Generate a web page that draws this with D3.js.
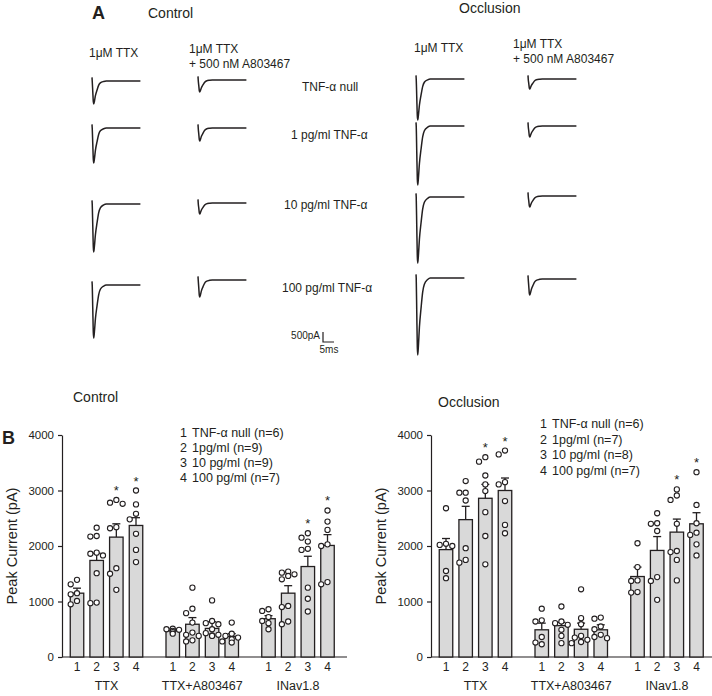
<!DOCTYPE html>
<html>
<head>
<meta charset="utf-8">
<script src="https://cdn.jsdelivr.net/npm/d3@7"></script>
<style>
  body { margin: 0; background: #fff; }
  text { font-family: "Liberation Sans", Arial, sans-serif; fill: #231f20; }
</style>
</head>
<body>
<div id="fig"></div>
<script>
// ---- panel A : example traces ----
const traceRows = ["TNF-\u03b1 null", "1 pg/ml TNF-\u03b1", "10 pg/ml TNF-\u03b1", "100 pg/ml TNF-\u03b1"];
const ctrlTTXPeak = [1150, 1750, 2400, 2650];
const ctrlA803Peak = [600, 650, 550, 850];
const occlTTXPeak = [2050, 2950, 3300, 3850];
const occlA803Peak = [500, 550, 550, 800];
// normalised waveform (time in ms, fraction of peak)
const traceT = [0.1, 0.35, 0.6, 0.8, 1.1, 1.55, 2.3, 3.05, 3.8, 5.3, 6.5, 22];
const traceF = [0, 0.45, 0.9, 1.0, 0.88, 0.64, 0.39, 0.18, 0.08, 0.02, 0, 0];
const artifactPA = 180;

// ---- panel B : bar charts ----
const groups = ["TTX", "TTX+A803467", "INav1.8"];
const doseIds = ["1", "2", "3", "4"];
const doseNames = ["TNF-\u03b1 null", "1pg/ml", "10 pg/ml", "100 pg/ml"];
const yTicks = [0, 1000, 2000, 3000, 4000];

const ctrlN = [6, 9, 9, 7];
const ctrlMean = [[1150, 1740, 2160, 2370], [470, 590, 515, 370], [690, 1150, 1630, 2010]];
const ctrlSem = [[90, 130, 240, 140], [35, 120, 120, 50], [55, 135, 185, 195]];
const ctrlStars = [[0, 0, 1, 1], [0, 0, 0, 0], [0, 0, 1, 1]];
const ctrlDots = [
  [[1390, 1310, 1150, 1130, 1010, 950],
   [2330, 2180, 2170, 1880, 1860, 1830, 1510, 980, 970],
   [2830, 2780, 2760, 2340, 2320, 1600, 1500, 1210],
   [3000, 2750, 2580, 2480, 2220, 1930, 1710]],
  [[510, 500, 490, 470, 450, 420],
   [1250, 870, 790, 620, 440, 400, 380, 300, 280],
   [1020, 650, 610, 590, 500, 430, 400, 390, 380],
   [620, 420, 380, 350, 320, 280, 260]],
  [[860, 830, 720, 650, 610, 500],
   [1540, 1520, 1490, 1460, 1400, 920, 900, 640, 590],
   [2230, 2150, 2080, 1950, 1930, 1250, 1050, 820],
   [2640, 2440, 2290, 2030, 2000, 1350, 1310]]
];

const occlN = [6, 7, 8, 7];
const occlMean = [[1935, 2475, 2860, 3000], [490, 565, 500, 490], [1450, 1920, 2250, 2400]];
const occlSem = [[200, 240, 250, 225], [120, 60, 110, 90], [170, 250, 235, 200]];
const occlStars = [[0, 0, 1, 1], [0, 0, 0, 0], [0, 0, 1, 1]];
const occlDots = [
  [[2680, 2040, 2020, 2000, 1550, 1420],
   [3170, 2960, 2960, 2820, 1960, 1750, 1700],
   [3600, 3520, 3270, 3110, 2990, 2610, 2180, 1670],
   [3720, 3650, 3150, 3110, 2810, 2380, 2230]],
  [[870, 660, 640, 360, 260, 230],
   [910, 640, 610, 580, 490, 380, 250],
   [1220, 700, 590, 380, 350, 310, 270, 250],
   [710, 690, 550, 500, 400, 360, 340]],
  [[2050, 1620, 1380, 1370, 1170, 1160],
   [2590, 2410, 2400, 2270, 1440, 1370, 1030],
   [3020, 2910, 2830, 2400, 1910, 1890, 1750, 1380],
   [3330, 2740, 2410, 2240, 2200, 2030, 1830]]
];

const W = 712, H = 696;
const ink = "#231f20";

const svg = d3.select("#fig").append("svg")
    .attr("width", W)
    .attr("height", H)
    .attr("viewBox", [0, 0, W, H]);

// ================= panel A =================
const pxPerMs = 2.2;     // 5 ms = 11 px
const pxPerPA = 10 / 500; // 500 pA = 10 px

function drawTrace(x0, base, peak) {
    const tx = d3.scaleLinear().domain([0, 22]).range([x0, x0 + 22 * pxPerMs]);
    const ty = d3.scaleLinear().domain([0, 500]).range([base, base + 500 * pxPerPA]);
    const pts = [[0, -artifactPA]].concat(traceT.map((t, i) => [t, traceF[i] * peak]));
    const line = d3.line()
        .x(d => tx(d[0]))
        .y(d => ty(d[1]))
        .curve(d3.curveMonotoneX);
    svg.append("path")
        .attr("d", line(pts))
        .attr("fill", "none")
        .attr("stroke", ink)
        .attr("stroke-width", 1.5)
        .attr("stroke-linejoin", "round");
}

svg.append("text").attr("x", 92).attr("y", 19)
    .style("font-size", "18px").style("font-weight", "bold").text("A");
svg.append("text").attr("x", 148).attr("y", 18).style("font-size", "14px").text("Control");
svg.append("text").attr("x", 459).attr("y", 13).style("font-size", "14px").text("Occlusion");

function colHeader(x, y, lines) {
    const t = svg.append("text").attr("x", x).attr("y", y).style("font-size", "12px");
    lines.forEach((s, i) => t.append("tspan").attr("x", x).attr("dy", i ? 15 : 0).text(s));
}
colHeader(89, 57, ["1\u03bcM TTX"]);
colHeader(189, 53, ["1\u03bcM TTX", "+ 500 nM A803467"]);
colHeader(414, 52, ["1\u03bcM TTX"]);
colHeader(513, 48, ["1\u03bcM TTX", "+ 500 nM A803467"]);

const ctrlBase = [81, 128, 204, 285];
const ctrlBase2 = [80, 128, 203, 280];
const occlBase = [79, 126, 197, 278];
const occlBase2 = [79, 126, 196, 279];
traceRows.forEach((r, i) => {
    drawTrace(92, ctrlBase[i], ctrlTTXPeak[i]);
    drawTrace(198, ctrlBase2[i], ctrlA803Peak[i]);
    drawTrace(416, occlBase[i], occlTTXPeak[i]);
    drawTrace(528, occlBase2[i], occlA803Peak[i]);
});

const rowLabelX = [302, 291, 284, 282];
const rowLabelY = [91, 139, 209, 292];
svg.append("g").selectAll("text")
    .data(traceRows)
    .join("text")
    .attr("x", (d, i) => rowLabelX[i])
    .attr("y", (d, i) => rowLabelY[i])
    .style("font-size", "12px")
    .text(d => d);

// scale bar
const sbX = 323, sbY = 342;
svg.append("path")
    .attr("d", `M${sbX},${sbY - 500 * pxPerPA}V${sbY}H${sbX + 5 * pxPerMs}`)
    .attr("fill", "none").attr("stroke", ink).attr("stroke-width", 1.2);
svg.append("text").attr("x", sbX - 3).attr("y", sbY - 3)
    .attr("text-anchor", "end").style("font-size", "10px").text("500pA");
svg.append("text").attr("x", sbX + 6).attr("y", sbY + 11)
    .attr("text-anchor", "middle").style("font-size", "10px").text("5ms");

// ================= panel B =================
svg.append("text").attr("x", 2).attr("y", 444)
    .style("font-size", "18px").style("font-weight", "bold").text("B");

const y = d3.scaleLinear().domain([0, 4000]).range([657, 435]);
const r = 2.6;

// simple dodge so that equal values sit side by side
function dodge(values) {
    const placed = [];
    values.slice().sort((a, b) => b - a).forEach(v => {
        const cy = y(v);
        const cands = [0, -6.3, 6.3, -3.2, 3.2, -9.5, 9.5];
        let off = cands.find(o => placed.every(p => Math.hypot(p.dx - o, p.cy - cy) >= 2 * r + 0.9));
        if (off === undefined) off = 0;
        placed.push({ dx: off, cy: cy });
    });
    return placed;
}

function drawChart(cfg) {
    const g = svg.append("g");
    const x0 = cfg.x0;
    const gx = d3.scalePoint().domain(groups).range([x0 + 44.5, x0 + 236]);
    const ix = d3.scalePoint().domain(doseIds).range([-29.5, 29.5]);
    const barW = 13.5;

    // y axis
    const yAxis = g.append("g")
        .attr("transform", `translate(${x0},0)`)
        .call(d3.axisLeft(y).tickValues(yTicks).tickFormat(d3.format("d"))
            .tickSize(4).tickSizeOuter(0).tickPadding(4));
    yAxis.select(".domain").attr("stroke", ink).attr("stroke-width", 1.2);
    yAxis.selectAll(".tick line").attr("stroke", ink).attr("stroke-width", 1.2);
    yAxis.selectAll(".tick text")
        .style("font-size", "11.5px")
        .style("font-family", "'Liberation Sans', Arial, sans-serif")
        .attr("fill", ink);

    g.append("line")
        .attr("x1", x0).attr("x2", x0 + 285)
        .attr("y1", y(0)).attr("y2", y(0))
        .attr("stroke", ink).attr("stroke-width", 1.2);

    g.append("text")
        .attr("transform", `translate(${x0 - 50},${(y(0) + y(4000)) / 2}) rotate(-90)`)
        .attr("text-anchor", "middle")
        .attr("dy", "0.35em")
        .style("font-size", "14.5px")
        .text("Peak Current (pA)");

    g.append("text").attr("x", cfg.titleX).attr("y", cfg.titleY)
        .style("font-size", "14px").text(cfg.title);

    // legend
    doseNames.forEach((name, i) => {
        const ly = cfg.legendY + i * cfg.legendStep;
        g.append("text").attr("x", cfg.legendX).attr("y", ly)
            .style("font-size", "12.5px").text(doseIds[i]);
        g.append("text").attr("x", cfg.legendX + 12).attr("y", ly)
            .style("font-size", "12.5px").text(`${name} (n=${cfg.n[i]})`);
    });

    groups.forEach((grp, gi) => {
        doseIds.forEach((id, di) => {
            const cx = gx(grp) + ix(id);
            const m = cfg.mean[gi][di];
            const top = y(m + cfg.sem[gi][di]);

            // error bar (upper only) behind the bar
            g.append("line")
                .attr("x1", cx).attr("x2", cx)
                .attr("y1", y(m)).attr("y2", top)
                .attr("stroke", ink).attr("stroke-width", 1.3);
            g.append("line")
                .attr("x1", cx - 4).attr("x2", cx + 4)
                .attr("y1", top).attr("y2", top)
                .attr("stroke", ink).attr("stroke-width", 1.3);

            g.append("rect")
                .attr("x", cx - barW / 2)
                .attr("y", y(m))
                .attr("width", barW)
                .attr("height", y(0) - y(m))
                .attr("fill", "#d9d9d9")
                .attr("stroke", ink)
                .attr("stroke-width", 1.3);

            const pts = dodge(cfg.dots[gi][di]);
            g.append("g").selectAll("circle")
                .data(pts)
                .join("circle")
                .attr("cx", d => cx + d.dx)
                .attr("cy", d => d.cy)
                .attr("r", r)
                .attr("fill", "#fff")
                .attr("stroke", ink)
                .attr("stroke-width", 1.1);

            if (cfg.stars[gi][di]) {
                const hi = Math.min(top, d3.min(pts, d => d.cy));
                g.append("text")
                    .attr("x", cx).attr("y", hi - 5)
                    .attr("text-anchor", "middle")
                    .style("font-size", "13px")
                    .text("*");
            }

            g.append("text")
                .attr("x", cx).attr("y", 671)
                .attr("text-anchor", "middle")
                .style("font-size", "12px")
                .text(id);
        });

        g.append("text")
            .attr("x", gx(grp)).attr("y", 690)
            .attr("text-anchor", "middle")
            .style("font-size", "12.5px")
            .text(grp);
    });
}

drawChart({
    x0: 62, title: "Control", titleX: 73, titleY: 402,
    legendX: 180, legendY: 437, legendStep: 15,
    n: ctrlN, mean: ctrlMean, sem: ctrlSem, dots: ctrlDots, stars: ctrlStars
});

drawChart({
    x0: 431, title: "Occlusion", titleX: 438, titleY: 407,
    legendX: 540, legendY: 428, legendStep: 15.7,
    n: occlN, mean: occlMean, sem: occlSem, dots: occlDots, stars: occlStars
});
</script>
</body>
</html>
